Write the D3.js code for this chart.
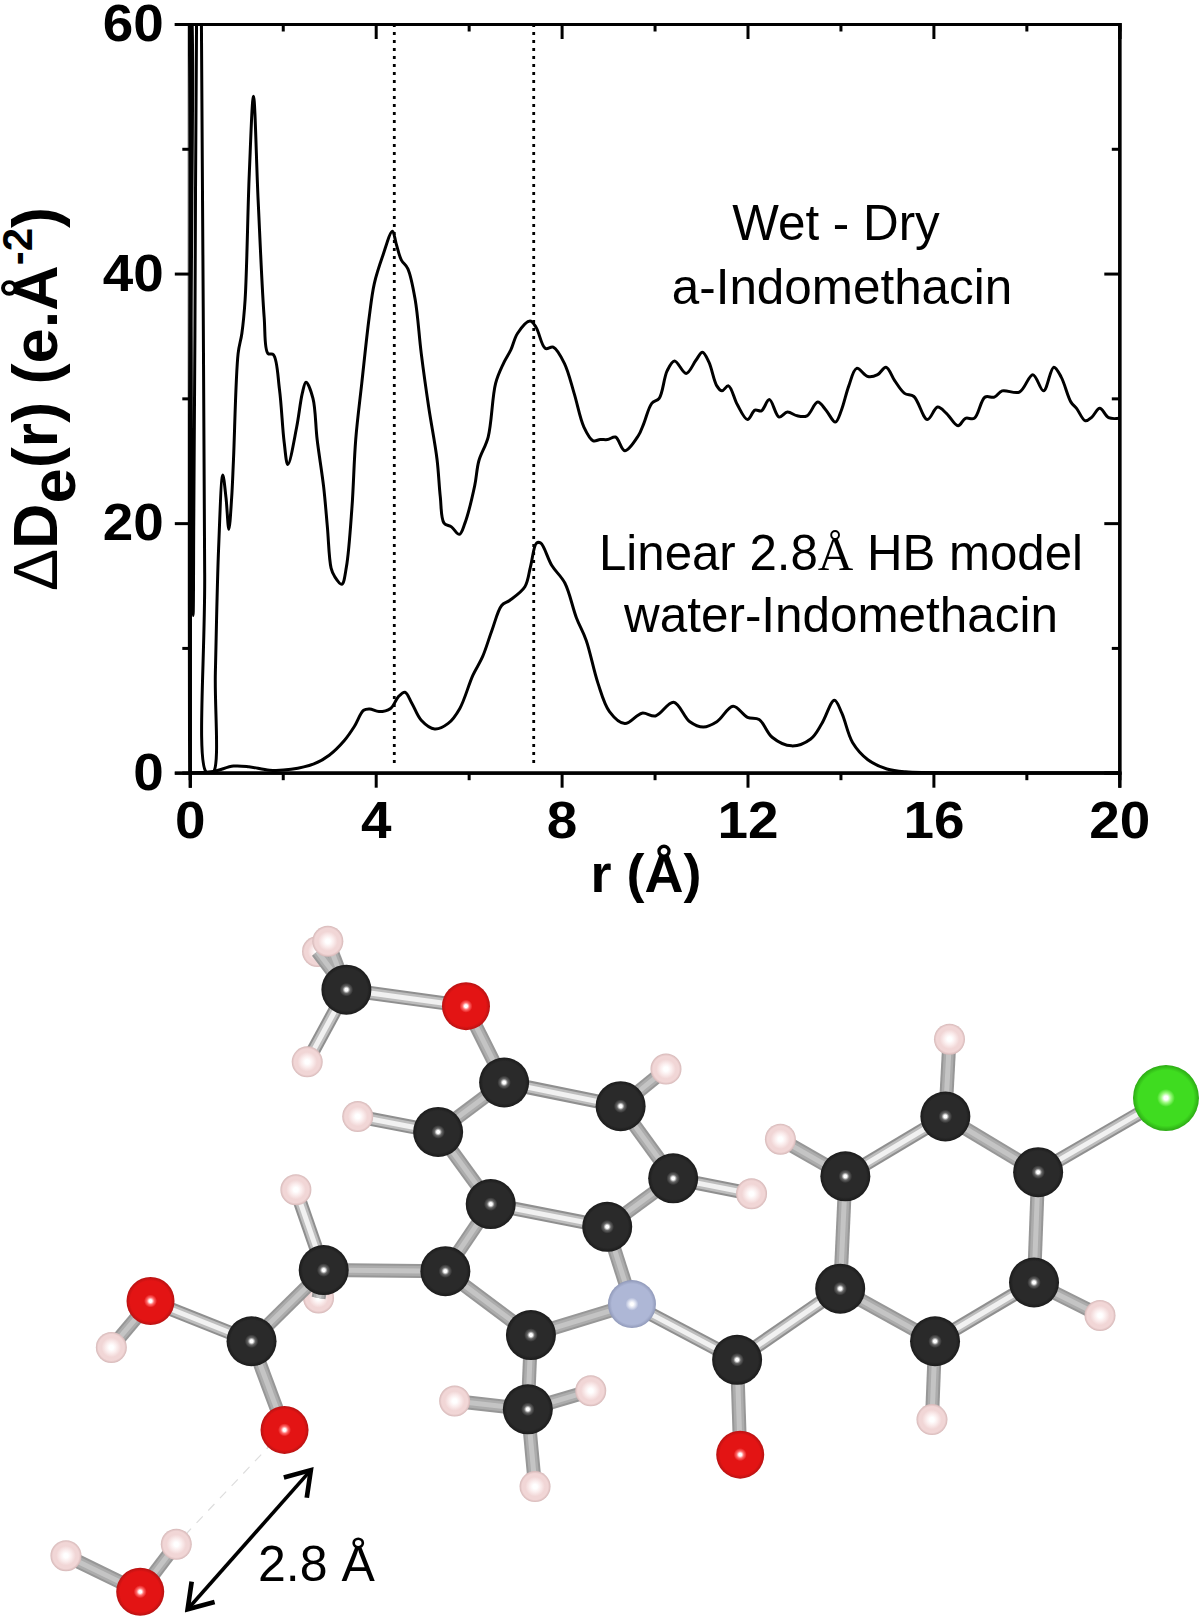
<!DOCTYPE html>
<html><head><meta charset="utf-8">
<style>html,body{margin:0;padding:0;background:#fff}svg{display:block}text{fill:#000}</style>
<script src="https://cdnjs.cloudflare.com/ajax/libs/d3/7.8.5/d3.min.js"></script></head>
<body><div id="c"></div>
<script>
// Wet - Dry a-Indomethacin difference curve [r, value]
const wetDry=[[0,0],[0.004,62],[0.016,62],[0.03,35],[0.05,14],[0.07,12.6],[0.085,20],[0.11,35],[0.145,60],[0.2,72],[0.25,60],[0.32,16],[0.36,0],[0.5,0],[0.55,8],[0.62,18],[0.71,23.85],[0.78,22],[0.84,19.5],[0.9,22],[0.94,25.1],[1.04,33.6],[1.12,35.2],[1.19,37.9],[1.28,48],[1.37,54.2],[1.47,45.9],[1.6,36.5],[1.68,33.6],[1.8,33.5],[1.93,30.7],[2.03,26.5],[2.11,24.7],[2.3,27.7],[2.42,30.4],[2.5,31.3],[2.65,30],[2.74,26.7],[2.88,22.9],[2.96,19.7],[3.04,16.4],[3.12,15.7],[3.27,15.1],[3.37,16.5],[3.49,21.3],[3.57,26.7],[3.7,31.2],[3.86,36.5],[3.97,39.2],[4.15,41.4],[4.36,43.4],[4.44,42.4],[4.55,41.1],[4.69,40.4],[4.85,37.9],[4.98,33.6],[5.14,29.3],[5.32,25.1],[5.39,22.1],[5.47,20],[5.63,19.7],[5.8,19.1],[5.92,20],[6.13,23],[6.22,25],[6.42,26.9],[6.58,31.2],[6.75,32.8],[6.91,33.9],[7.05,35.2],[7.32,36.2],[7.45,35.7],[7.65,34],[7.82,34.1],[8.06,32.8],[8.27,30.4],[8.48,27.7],[8.68,26.6],[8.83,26.7],[8.99,26.7],[9.16,26.9],[9.36,25.8],[9.65,27],[9.77,28],[9.94,29.6],[10.1,30],[10.27,32.2],[10.43,33],[10.68,32],[10.89,33.05],[11.03,33.7],[11.17,32.9],[11.34,31],[11.45,30.6],[11.59,31],[11.78,29.5],[12,28.3],[12.16,29.05],[12.3,29],[12.47,29.9],[12.68,28.5],[12.86,28.9],[13.07,28.6],[13.28,28.6],[13.51,29.7],[13.69,29.05],[13.89,28.1],[14.02,29.05],[14.18,31],[14.35,32.4],[14.59,31.75],[14.8,31.9],[14.98,32.5],[15.17,31.4],[15.38,30.4],[15.58,30.15],[15.87,28.3],[16.09,29.3],[16.28,28.8],[16.53,27.8],[16.69,28.4],[16.88,28.4],[17.11,30.1],[17.31,30.1],[17.48,30.6],[17.85,30.5],[18.14,31.9],[18.37,30.6],[18.59,32.5],[18.75,31.7],[18.96,29.7],[19.08,29.2],[19.27,28.2],[19.41,28.5],[19.58,29.2],[19.77,28.45],[20,28.4]];
// Linear 2.8 A HB model water-Indomethacin [r, value]
const model=[[0,0],[0.5,0.1],[0.94,0.53],[1.27,0.48],[1.72,0.2],[2.18,0.27],[2.67,0.7],[3,1.4],[3.33,2.6],[3.54,3.7],[3.74,5],[3.87,5.1],[4.07,4.9],[4.32,5.15],[4.49,6.1],[4.63,6.45],[4.78,5.55],[4.98,4.2],[5.27,3.5],[5.56,3.95],[5.81,5.15],[6.09,7.8],[6.3,9.3],[6.5,11.4],[6.71,13.4],[6.88,13.8],[7.21,14.9],[7.33,16.5],[7.46,18.4],[7.55,18.4],[7.79,16.6],[8.07,15.2],[8.32,12.4],[8.53,10.6],[8.78,7.2],[9.03,4.9],[9.36,3.94],[9.73,4.77],[10.02,4.55],[10.41,5.65],[10.76,4.08],[11.05,3.66],[11.34,4.08],[11.69,5.32],[12,4.44],[12.25,4.27],[12.53,2.84],[12.95,2.15],[13.36,2.7],[13.6,3.94],[13.87,5.8],[14.03,4.77],[14.26,2.42],[14.59,1.04],[15,0.3],[15.4,0.07],[17,0],[20,0]];
const referenceR=[4.4,7.4];
const xMajor=[0,4,8,12,16,20], xMinor=[2,6,10,14,18];
const yMajor=[0,20,40,60], yMinor=[10,30,50];
// Molecule illustration: atoms [element, x, y] on a 1164-wide sketch grid
const atoms=[
["H",308,923],["H",309,1259],
["C",336,960],["O",452,976],["H",318,913],["H",298,1030],
["C",489,1050],["C",602,1073],["H",646,1037],["C",425,1098],["H",347,1083],
["C",476,1168],["C",589,1190],["C",653,1143],["H",729,1158],
["C",432,1233],["C",314,1232],["H",287,1154],["C",244,1301],["O",146,1262],["H",108,1307],["O",276,1387],
["C",515,1295],["N",613,1265],["C",512,1367],["H",441,1359],["H",573,1349],["H",519,1442],
["C",715,1319],["O",718,1411],["C",815,1250],["C",820,1141],["H",757,1105],["C",917,1083],["H",921,1008],
["C",1007,1137],["Cl",1131,1065],["C",1003,1244],["H",1067,1276],["C",907,1301],["H",904,1377],
["O",136,1544],["H",64,1509],["H",171,1498]];
// Bonds [atom index, atom index, bright core 1/0]
const bonds=[[2,0,0],[2,4,0],[2,3,1],[2,5,1],[3,6,0],[6,7,1],[7,8,0],[6,9,0],[9,10,1],[9,11,0],[11,12,1],[12,13,0],[7,13,0],[13,14,1],
[11,15,0],[15,16,0],[16,17,1],[16,1,0],[16,18,0],[18,19,1],[19,20,0],[18,21,0],[15,22,0],[22,23,0],[12,23,0],[22,24,0],[24,25,0],[24,26,0],[24,27,0],
[23,28,1],[28,29,0],[28,30,1],[30,31,0],[31,32,0],[31,33,1],[33,34,0],[33,35,0],[35,36,1],[35,37,0],[37,38,0],[37,39,1],[39,30,0],[39,40,0],
[41,42,0],[41,43,0]];
const hBond=[21,43];
const arrowEnds=[[301.5,1426],[182,1561]];
const radii={C:25,O:24,H:15.5,N:24,Cl:33};
const palette={C:["#666","#2a2a2a","#1b1b1b"],O:["#ff6a6a","#e31414","#b81212"],H:["#fbeeee","#f1d6d6","#d6b8b8"],N:["#dfe3f1","#aeb7d6","#8f98b8"],Cl:["#9dfa80","#3fdc20","#2caa14"]};

const W=1200,H=1616, L=189.8,R=1119.3,T=24,B=772.7;
const svg=d3.select("#c").append("svg").attr("width",W).attr("height",H).attr("viewBox",`0 0 ${W} ${H}`);
const x=d3.scaleLinear().domain([0,20]).range([L,R]);
const y=d3.scaleLinear().domain([0,60]).range([B,T]);
const sk=d3.scaleLinear().domain([0,1164]).range([0,1200]);
const defs=svg.append("defs");
defs.append("clipPath").attr("id","plot").append("rect").attr("x",L-2).attr("y",T).attr("width",R-L+2).attr("height",B-T);
Object.keys(palette).forEach(k=>{
  const g=defs.append("radialGradient").attr("id","g"+k).attr("cx","50%").attr("cy","50%").attr("r","50%");
  const s=k==="H"?0.14:0.06;
  g.append("stop").attr("offset",0).attr("stop-color","#fff");
  g.append("stop").attr("offset",s).attr("stop-color","#fff");
  g.append("stop").attr("offset",s*2.5).attr("stop-color",palette[k][0]);
  g.append("stop").attr("offset",s*4.5).attr("stop-color",palette[k][1]);
  g.append("stop").attr("offset",0.84).attr("stop-color",palette[k][1]);
  g.append("stop").attr("offset",1).attr("stop-color",palette[k][2]);
});
defs.append("marker").attr("id","arr").attr("viewBox","-14 -10 16 20").attr("refX",0).attr("refY",0)
  .attr("markerWidth",30).attr("markerHeight",36).attr("markerUnits","userSpaceOnUse")
  .attr("orient","auto-start-reverse").append("path").attr("d","M-13,-8.5L0,0L-13,8.5").attr("fill","none").attr("stroke","#000").attr("stroke-width",2.6);

const FONT="'Liberation Sans',Arial,sans-serif";
// dotted guides
svg.append("g").selectAll("line").data(referenceR).join("line")
  .attr("x1",d=>x(d)).attr("x2",d=>x(d)).attr("y1",y(60)).attr("y2",y(0.5))
  .attr("stroke","#000").attr("stroke-width",2.8).attr("stroke-dasharray","3 5");
// curves
const line=d3.line().x(d=>x(d[0])).y(d=>y(d[1])).curve(d3.curveCatmullRom.alpha(0.5));
const gc=svg.append("g").attr("clip-path","url(#plot)");
[wetDry,model].forEach(s=>gc.append("path").attr("d",line(s)).attr("fill","none").attr("stroke","#000").attr("stroke-width",3).attr("stroke-linejoin","round"));
// axes
function axis(gen,tx,ty,vals,size,fmt,pad){
  const g=svg.append("g").attr("transform",`translate(${tx},${ty})`).call(gen.tickValues(vals).tickSize(size).tickPadding(pad).tickFormat(fmt?d3.format("d"):""));
  g.selectAll("path").attr("stroke","#000").attr("stroke-width",3.2);
  g.selectAll("line").attr("stroke","#000").attr("stroke-width",3);
  if(fmt) g.selectAll("text").attr("font-family",FONT).attr("font-weight","bold").attr("font-size",52).attr("fill","#000")
    .attr("textLength",d=>String(d).length*30.5).attr("lengthAdjust","spacingAndGlyphs");
  return g;
}
const cfg=[[d3.axisBottom(x),0,B,1,13],[d3.axisTop(x),0,T,-1,3],[d3.axisLeft(y),L,0,1,11],[d3.axisRight(y),R,0,-1,3]];
cfg.forEach(([a,tx,ty,s,pad],i)=>{
  const isX=i<2;
  axis(a.tickSizeOuter(0),tx,ty,isX?xMinor:yMinor,7.5*s,false,3);
  axis(a.tickSizeOuter(0),tx,ty,isX?xMajor:yMajor,15*s,s>0,pad);
});
// axis titles
svg.append("text").attr("x",646).attr("y",892).attr("text-anchor","middle").attr("font-family",FONT).attr("font-weight","bold").attr("font-size",54).text("r (Å)");
const yl=svg.append("text").attr("transform","translate(57,591) rotate(-90)").attr("font-family",FONT).attr("font-weight","bold").attr("font-size",63);
yl.append("tspan").attr("font-weight","normal").text("Δ");
yl.append("tspan").text("D");
yl.append("tspan").attr("dy",18).text("e");
yl.append("tspan").attr("dy",-18).text("(r) (e.Å");
yl.append("tspan").attr("font-size",42).attr("dy",-25).text("-2");
yl.append("tspan").attr("dy",25).text(")");
// annotations
const ann=[["Wet - Dry",836,240],["a-Indomethacin",842,304],["water-Indomethacin",841,632]];
svg.append("g").selectAll("text").data(ann).join("text").attr("x",d=>d[1]).attr("y",d=>d[2]).attr("text-anchor","middle")
  .attr("font-family",FONT).attr("font-size",49.4).text(d=>d[0]);
const lin=svg.append("text").attr("x",841).attr("y",570).attr("text-anchor","middle").attr("font-family",FONT).attr("font-size",49.2);
lin.append("tspan").text("Linear 2.8");
lin.append("tspan").attr("font-family","'Liberation Serif',serif").text("Å");
lin.append("tspan").text(" HB model");
// molecule
const mol=svg.append("g");
const pos=i=>[sk(atoms[i][1]),sk(atoms[i][2])];
mol.append("g").selectAll("circle").data(atoms.slice(0,2)).join("circle")
  .attr("cx",d=>sk(d[1])).attr("cy",d=>sk(d[2])).attr("r",d=>radii[d[0]]).attr("fill",d=>`url(#g${d[0]})`);
const bg=mol.append("g");
function layer(width,color){
  bg.append("g").selectAll("line").data(bonds).join("line")
    .attr("x1",d=>pos(d[0])[0]).attr("y1",d=>pos(d[0])[1]).attr("x2",d=>pos(d[1])[0]).attr("y2",d=>pos(d[1])[1])
    .attr("stroke",d=>color[d[2]]).attr("stroke-width",width);
}
layer(14,["#979797","#8f8f8f"]);
layer(10,["#acacac","#bdbdbd"]);
layer(5,["#c4c4c4","#f1f1f1"]);
mol.append("line").attr("x1",pos(hBond[0])[0]).attr("y1",pos(hBond[0])[1]).attr("x2",pos(hBond[1])[0]).attr("y2",pos(hBond[1])[1])
  .attr("stroke","#ddd").attr("stroke-width",1.2).attr("stroke-dasharray","9 8");
mol.append("g").selectAll("circle").data(atoms.slice(2)).join("circle")
  .attr("cx",d=>sk(d[1])).attr("cy",d=>sk(d[2])).attr("r",d=>radii[d[0]]).attr("fill",d=>`url(#g${d[0]})`);
// distance arrow
mol.append("line").attr("x1",sk(arrowEnds[0][0])).attr("y1",sk(arrowEnds[0][1])).attr("x2",sk(arrowEnds[1][0])).attr("y2",sk(arrowEnds[1][1]))
  .attr("stroke","#000").attr("stroke-width",3.6).attr("marker-start","url(#arr)").attr("marker-end","url(#arr)");
svg.append("text").attr("x",258).attr("y",1581).attr("font-family",FONT).attr("font-size",50).text("2.8 Å");
</script></body></html>
